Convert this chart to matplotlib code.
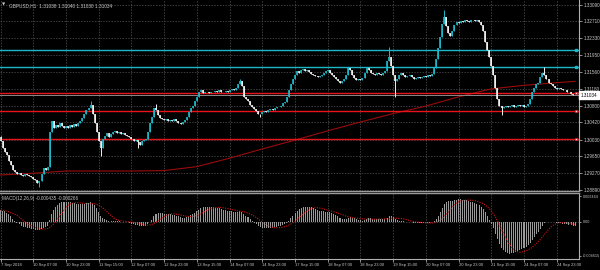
import matplotlib.pyplot as plt
import matplotlib.transforms as mtransforms
import numpy as np
import pandas as pd

plt.rcParams['font.family'] = ['Liberation Sans', 'DejaVu Sans']

# GBPUSD H1 closes, 7 Sep 15:00 -> 25 Sep 08:00 (one row = 16 bars)
closes = [
    1.3000, 1.2985, 1.2975, 1.2968, 1.2955, 1.2945, 1.2935, 1.2930, 1.2925, 1.2928, 1.2922, 1.2920, 1.2925, 1.2922, 1.2920, 1.2918,
    1.2915, 1.2912, 1.2905, 1.2910, 1.2925, 1.2938, 1.2935, 1.2940, 1.3020, 1.3045, 1.3030, 1.3036, 1.3032, 1.3040, 1.3035, 1.3030,
    1.3033, 1.3030, 1.3036, 1.3032, 1.3038, 1.3035, 1.3040, 1.3045, 1.3052, 1.3060, 1.3070, 1.3075, 1.3082, 1.3060, 1.3040, 1.3020,
    1.3000, 1.2985, 1.3005, 1.3012, 1.3018, 1.3010, 1.3015, 1.3020, 1.3022, 1.3018, 1.3020, 1.3016, 1.3018, 1.3014, 1.3012, 1.3008,
    1.3005, 1.3000, 1.3002, 1.2998, 1.2990, 1.3000, 1.3002, 1.3005, 1.3020, 1.3040, 1.3055, 1.3075, 1.3070, 1.3058, 1.3052, 1.3050,
    1.3048, 1.3050, 1.3046, 1.3048, 1.3046, 1.3050, 1.3045, 1.3040, 1.3038, 1.3042, 1.3048, 1.3055, 1.3065, 1.3075, 1.3080, 1.3090,
    1.3100, 1.3110, 1.3115, 1.3108, 1.3112, 1.3110, 1.3108, 1.3112, 1.3110, 1.3114, 1.3112, 1.3116, 1.3112, 1.3110, 1.3114, 1.3112,
    1.3116, 1.3118, 1.3115, 1.3120, 1.3128, 1.3135, 1.3125, 1.3100, 1.3095, 1.3090, 1.3082, 1.3078, 1.3072, 1.3068, 1.3062, 1.3060,
    1.3065, 1.3068, 1.3066, 1.3070, 1.3072, 1.3070, 1.3075, 1.3078, 1.3076, 1.3080, 1.3085, 1.3088, 1.3100, 1.3115, 1.3130, 1.3140,
    1.3150, 1.3158, 1.3155, 1.3160, 1.3162, 1.3158, 1.3160, 1.3156, 1.3152, 1.3150, 1.3148, 1.3145, 1.3148, 1.3150, 1.3155, 1.3158,
    1.3160, 1.3155, 1.3150, 1.3145, 1.3140, 1.3136, 1.3132, 1.3135, 1.3140, 1.3150, 1.3165, 1.3160, 1.3150, 1.3142, 1.3138, 1.3140,
    1.3138, 1.3142, 1.3155, 1.3166, 1.3160, 1.3155, 1.3152, 1.3150, 1.3155, 1.3152, 1.3150, 1.3155, 1.3158, 1.3180, 1.3190, 1.3170,
    1.3150, 1.3135, 1.3140, 1.3150, 1.3155, 1.3150, 1.3145, 1.3148, 1.3150, 1.3145, 1.3140, 1.3143, 1.3145, 1.3142, 1.3145, 1.3148,
    1.3146, 1.3150, 1.3148, 1.3152, 1.3165, 1.3185, 1.3210, 1.3235, 1.3265, 1.3280, 1.3260, 1.3245, 1.3238, 1.3250, 1.3262, 1.3270,
    1.3268, 1.3272, 1.3270, 1.3274, 1.3272, 1.3270, 1.3273, 1.3275, 1.3272, 1.3274, 1.3270, 1.3262, 1.3250, 1.3225, 1.3205, 1.3190,
    1.3170, 1.3150, 1.3120, 1.3095, 1.3080, 1.3075, 1.3078, 1.3080, 1.3076, 1.3079, 1.3081, 1.3078, 1.3080, 1.3082, 1.3079, 1.3081,
    1.3078, 1.3080, 1.3083, 1.3095, 1.3112, 1.3120, 1.3128, 1.3132, 1.3145, 1.3155, 1.3150, 1.3140, 1.3132, 1.3128, 1.3125, 1.3120,
    1.3118, 1.3120, 1.3117, 1.3115, 1.3116, 1.3112, 1.3110, 1.3106, 1.3104, 1.31034,
]
first_open = 1.3010

# visible spikes (bar index -> wick price)
wick_high = {0: 1.3012, 44: 1.3090, 76: 1.3083, 117: 1.3140, 190: 1.3213, 217: 1.3297, 266: 1.3168}
wick_low = {19: 1.2895, 49: 1.2966, 67: 1.2985, 127: 1.3055, 193: 1.3100, 245: 1.3058}

# moving average (dark red) read at the grid columns
ma_idx = [0, 16, 32, 48, 64, 80, 96, 112, 128, 144, 160, 176, 192, 208, 224, 240, 256, 272, 281]
ma_val = [1.2923, 1.2927, 1.2932, 1.2932, 1.2932, 1.2933, 1.2942, 1.2961, 1.2982, 1.3002,
          1.3023, 1.3043, 1.3062, 1.3079, 1.3100, 1.3118, 1.3126, 1.3132, 1.3135]

levels_cyan = [1.3205, 1.3167]
levels_red = [1.3109, 1.3067, 1.3004]
bid = 1.31034

price_ticks = [1.33090, 1.32710, 1.32330, 1.31950, 1.31560, 1.31180,
               1.30800, 1.30420, 1.30030, 1.29650, 1.29270, 1.28890]
time_labels = ['7 Sep 2018', '10 Sep 07:00', '10 Sep 23:00', '11 Sep 15:00', '12 Sep 07:00',
               '12 Sep 23:00', '13 Sep 15:00', '14 Sep 07:00', '14 Sep 23:00', '17 Sep 15:00',
               '18 Sep 07:00', '18 Sep 23:00', '19 Sep 15:00', '20 Sep 07:00', '20 Sep 23:00',
               '21 Sep 15:00', '24 Sep 07:00', '24 Sep 23:00']
macd_ticks = [0.003464, 0.0, -0.004615]
macd_ticklabels = ['0.003464', '0.00', '-0.004615']
ema_seed_12 = 1.2969
ema_seed_26 = 1.2955

title = 'GBPUSD,H1  1.31038 1.31040 1.31030 1.31034'
macd_title = 'MACD(12,26,9) -0.000435 -0.000266'

# ---- derived series
n = len(closes)
idx = np.arange(n)
c = np.array(closes)
o = np.array([first_open] + closes[:-1])
hi = np.maximum(o, c)
lo = np.minimum(o, c)
for k, v in wick_high.items():
    hi[k] = v
for k, v in wick_low.items():
    lo[k] = v

s = pd.Series(closes)
e12 = pd.concat([pd.Series([ema_seed_12]), s]).ewm(span=12, adjust=False).mean().iloc[1:].values
e26 = pd.concat([pd.Series([ema_seed_26]), s]).ewm(span=26, adjust=False).mean().iloc[1:].values
macd = e12 - e26
signal = pd.Series(macd).rolling(9, min_periods=1).mean().values

# ---- figure
BG = 'black'
TXT = '#c8c8c8'
GRID = '#585858'
UP = '#1cb8c8'
DOWN = '#f0f0f0'

fig = plt.figure(figsize=(6, 2.7), dpi=100, facecolor=BG)
ax = fig.add_axes([0, 1 - 190.5 / 270, 579 / 600, 190.5 / 270], facecolor=BG)
ax2 = fig.add_axes([0, 1 - 259 / 270, 579 / 600, 66.5 / 270], facecolor=BG)

xmin, xmax = -0.3, 282.9
ticks = np.arange(0, n, 16)

# main panel
ax.grid(True, color=GRID, ls=(0, (2, 2)), lw=0.5)
ax.set_axisbelow(True)
ax.plot(ma_idx, ma_val, color='#9a0c0c', lw=0.8, zorder=2)
for lv in levels_cyan:
    ax.axhline(lv, color=UP, lw=1.0, zorder=3)
    ax.plot([xmax - 1.4], [lv], marker='s', ms=1.8, color=UP, zorder=4)
for lv in levels_red:
    ax.axhline(lv, color='#e8141c', lw=1.0, zorder=3)
    ax.plot([xmax - 1.4], [lv], marker='s', ms=1.8, mec='#e8141c', mfc='#ffe0e0', mew=0.5, zorder=4)
ax.axhline(bid, color='#8a8a8a', lw=0.7, zorder=3)

cols = np.where(c >= o, UP, DOWN)
ax.vlines(idx, lo, hi, colors=cols, lw=0.7, zorder=5)
ax.vlines(idx, np.minimum(o, c), np.maximum(o, c), colors=cols, lw=1.2, zorder=5)

ax.set_xlim(xmin, xmax)
ax.set_ylim(1.28879, 1.33192)
ax.set_xticks(ticks)
ax.set_xticklabels([])
ax.tick_params(axis='x', length=0)
ax.yaxis.tick_right()
ax.set_yticks(price_ticks)
ax.set_yticklabels(['%.5f' % p for p in price_ticks])
ax.tick_params(axis='y', colors=TXT, labelsize=3.3, length=2, width=0.5, pad=1.5)
for side in ['top', 'left']:
    ax.spines[side].set_visible(False)
ax.spines['right'].set_color('#b0b0b0')
ax.spines['bottom'].set_color('#9a9a9a')
ax.spines['bottom'].set_linewidth(1.0)

trans = mtransforms.blended_transform_factory(ax.transAxes, ax.transData)
ax.text(1.003, bid, '%.5f' % bid, transform=trans, ha='left', va='center', fontsize=3.3,
        color='black', bbox=dict(boxstyle='square,pad=0.35', fc='white', ec='white'), zorder=10,
        clip_on=False)
ax.text(0.004, 0.985, '\u25bc', transform=ax.transAxes, fontsize=3, color=TXT, va='top',
        family=['DejaVu Sans'])
ax.text(0.016, 0.985, title, transform=ax.transAxes, fontsize=3.4, color=TXT, va='top')

# MACD panel
ax2.grid(True, axis='x', color=GRID, ls=(0, (2, 2)), lw=0.5)
ax2.axhline(0, color=GRID, ls=(0, (2, 2)), lw=0.5)
ax2.set_axisbelow(True)
ax2.bar(idx, macd, width=0.5, color='#9a9a9a', zorder=3)
ax2.plot(idx, signal, color='#d41414', ls=(0, (1, 1.2)), lw=0.8, zorder=4)
ax2.set_xlim(xmin, xmax)
ax2.set_ylim(-0.005063, 0.003964)
ax2.set_xticks(ticks)
ax2.set_xticklabels(time_labels, ha='left')
ax2.tick_params(axis='x', colors=TXT, labelsize=3.0, length=2, width=0.5, pad=1)
ax2.yaxis.tick_right()
ax2.set_yticks(macd_ticks)
ax2.set_yticklabels(macd_ticklabels)
ax2.tick_params(axis='y', colors=TXT, labelsize=2.7, length=1.5, width=0.5, pad=1)
ax2.spines['left'].set_visible(False)
ax2.spines['right'].set_color('#b0b0b0')
ax2.spines['bottom'].set_color('#b0b0b0')
ax2.spines['top'].set_color('#9a9a9a')
ax2.spines['top'].set_linewidth(1.0)
ax2.text(0.004, 0.95, macd_title, transform=ax2.transAxes, fontsize=3.3, color=TXT, va='top')

fig.savefig('out.png', dpi=100, facecolor=BG)
